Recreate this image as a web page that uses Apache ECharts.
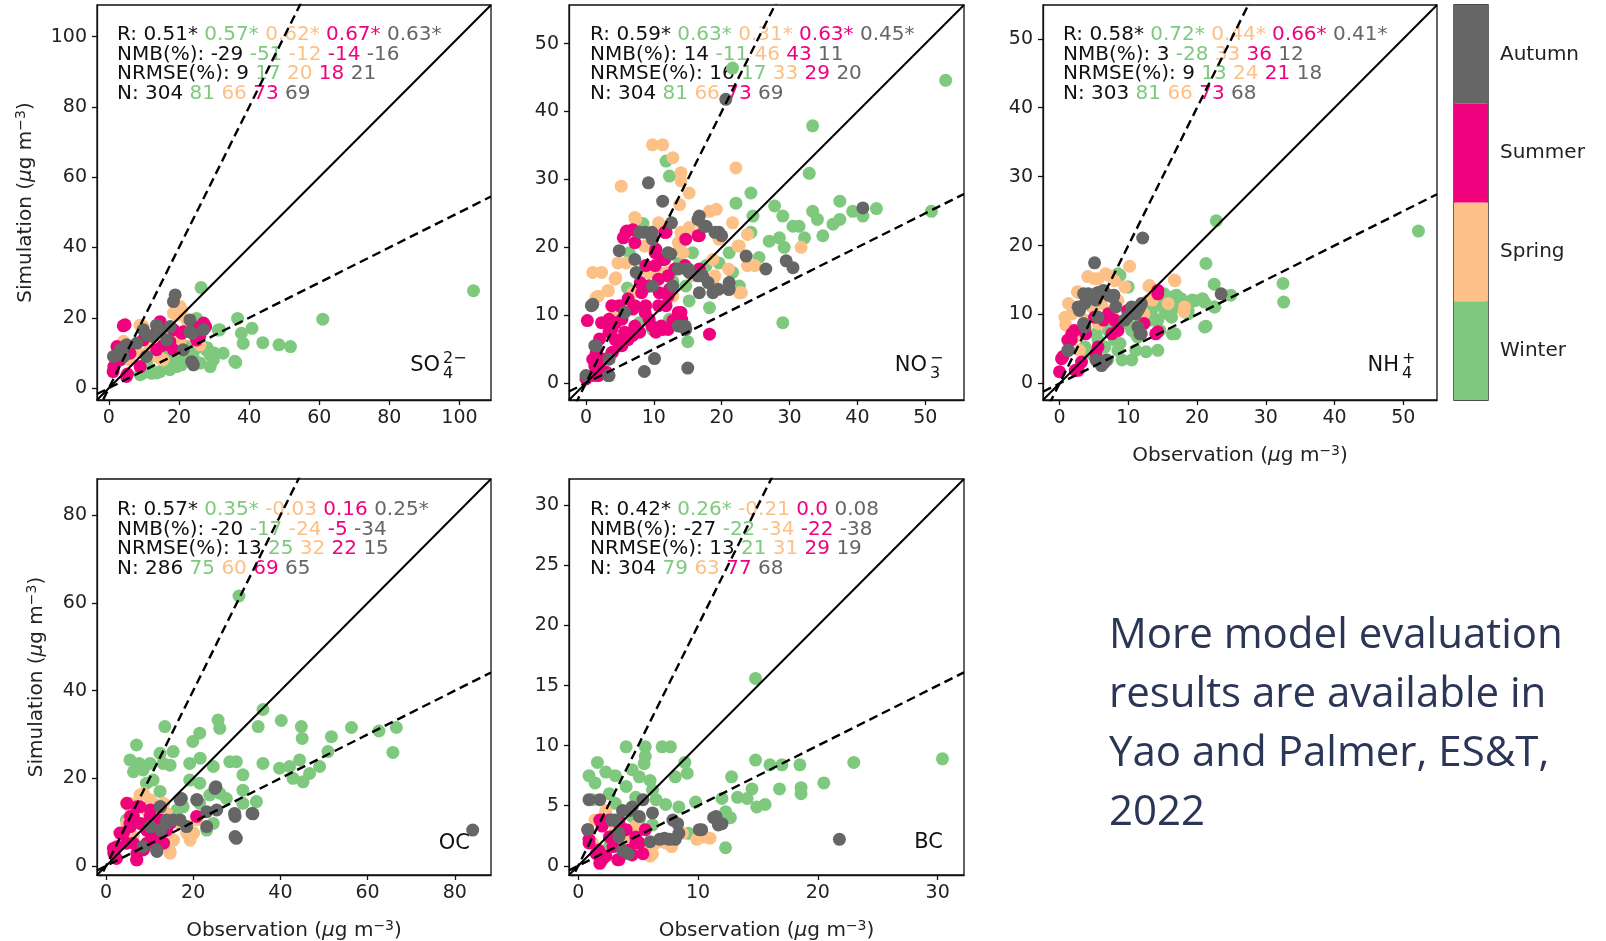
<!DOCTYPE html>
<html>
<head>
<meta charset="utf-8">
<script src="https://cdn.jsdelivr.net/npm/echarts@6/dist/echarts.min.js"></script>
<style>html,body{margin:0;padding:0;background:#fff;}#c{width:1606px;height:941px;}</style>
</head>
<body>
<div id="c"></div>
<script>
// ---------- DATA ----------
const seasons = ['Winter', 'Spring', 'Summer', 'Autumn'];
const seasonColors = ['#7fc97f', '#fdc086', '#f0027f', '#666666'];

const so4Range = [-3.4, 109];
const so4Ticks = [0, 20, 40, 60, 80, 100];
const no3Range = [-2.5, 55.7];
const no3Ticks = [0, 10, 20, 30, 40, 50];
const nh4Range = [-2.4, 54.9];
const nh4Ticks = [0, 10, 20, 30, 40, 50];
const ocRange = [-2.06, 88.3];
const ocTicks = [0, 20, 40, 60, 80];
const bcRange = [-0.77, 32.2];
const bcXTicks = [0, 10, 20, 30];
const bcYTicks = [0, 5, 10, 15, 20, 25, 30];

const so4Winter = [[26.3,28.6],[104,27.7],[61,19.6],[36.7,19.8],[40.8,17],[31.2,16.5],[37.8,15.6],[38.3,12.7],[43.9,12.9],[48.5,12.3],[51.8,11.8],[32.6,9.9],[36.2,7.3],[28.9,6.1],[26,7.1],[20.7,6.6],[17.4,6.6],[14.6,4.7],[12.2,4.2],[8.9,3.8],[10.8,7],[25,19.8],[27.8,10.8],[22.2,10.8],[16.5,9.9],[31.6,16.6],[28,11.5],[29.8,8],[21.2,8],[17.4,5.2],[13.6,4.3],[9.8,4.3],[22,11.8],[25,11.4],[28.8,9.5],[19.4,6.1],[35.9,7.6],[30,10],[24,9],[18,8.5]];
const so4Spring = [[20.3,23.2],[18.4,21.3],[22.2,19.4],[4.2,13.3],[9.8,17.5],[11.7,10.9],[13.6,9],[20.3,13.3],[7.9,10.4],[15.5,8],[5.9,8],[20.8,22.2],[19.3,20.8],[8.9,17.9],[13.6,10.8],[14.5,8.5],[10.8,9.9],[17.4,14.2],[26,12.3],[24.5,14.2],[6,12],[12,13]];
const so4Summer = [[4.6,18],[14.6,18.9],[27,18.5],[24.1,17.5],[1.4,6.1],[5.3,4],[21.2,16],[25.9,14.7],[18.4,16.6],[13.6,16],[9.8,13.7],[2.3,11.8],[15.5,12.2],[25,13.7],[18.4,10.9],[6,9.9],[3.2,8],[8.9,6.1],[13.6,10.9],[4.1,17.7],[27.6,17.5],[1.2,4.7],[5,3.3],[20.8,15.6],[17.4,13.2]];
const so4Autumn = [[18.9,26.5],[18.4,24.6],[23.1,19.4],[9.8,16.6],[14.6,16],[17.5,17.5],[12.6,14.7],[3.2,10.9],[4.2,9],[16.5,13.7],[8,12.8],[23.1,16],[24.1,6.6],[1.3,9],[21.2,10.9],[27,16.6],[10.7,9],[23.9,15.6],[23.6,7.5],[5,12.3],[13.6,17.9],[11,15]];

const no3Winter = [[21.6,46.4],[53,44.6],[33.4,37.9],[32.9,30.9],[11.8,32.7],[12.3,30.5],[24.3,28],[22.1,26.5],[27.8,26.1],[29,24.6],[33.4,25.3],[34.1,24.1],[37.4,26.8],[39.3,25.3],[42.8,25.7],[40.8,24.6],[36.4,23.4],[37.4,24.1],[34.9,21.7],[30.5,23.1],[31.4,23.1],[32.2,21.4],[28.5,21.4],[27,20.9],[29.2,20],[50.9,25.3],[29,8.9],[18.2,11.1],[15,6.1],[24.6,24.6],[24.3,22.2],[25.5,18.5],[21.1,19.2],[19.6,17.7],[17.7,17.3],[15.7,19.2],[14.7,14.3],[12.8,15],[15.2,12.1],[8.4,23.5],[6.4,19.2],[6.1,14],[7.9,8.9],[9.8,7.9],[12.3,9.4],[16.7,15.8],[21.6,16.3],[22.6,14.3],[13.8,17.7]];
const no3Spring = [[9.8,35.1],[11.3,35.1],[12.8,33.2],[14,31],[14,29.8],[5.2,29],[22.1,31.7],[15.2,28],[13.8,26.3],[18.2,25.3],[19.2,25.6],[7.3,24.1],[1,16.3],[3.2,13.6],[1.5,12.6],[4.4,15.5],[4.7,17.7],[5.9,17.7],[6.9,13.3],[8.6,20.2],[10.8,23.1],[13.8,20.2],[14,22.2],[15.2,22.9],[15.7,15.8],[19.6,21.2],[21.6,23.6],[22.6,20.2],[23.8,21.9],[23.8,17.3],[31.7,20],[22.6,13.3],[18.7,18.2],[9.3,16.3],[11.8,16.3],[12.8,12.8],[3.9,9.7],[5.4,10.9],[18.7,15.3],[17.2,23.1],[14.3,19.2],
  [7.2,24.4],[10.7,23.6],[13.6,20.7],[14.6,21.2],[8.7,20.2],[9.2,16.3],[10.7,16.3],[2.3,16.3],[4.3,15.3],[1.8,12.8],[3.3,13.6],[19.5,21.7],[22.4,20.2],[24.9,17.3],[22.9,13.3],[19,15.8],[21,16.8]];
const no3Summer = [[0.2,9.2],[3.4,9.4],[18.2,7.2],[5.9,22.2],[6.9,22.6],[11.3,18.2],[11.8,22.2],[10.3,19.7],[8.8,17.3],[8,14.8],[9.3,14.3],[10.8,13.3],[12.3,13.8],[11.8,11.4],[8.8,11.4],[6.9,10.9],[4.9,11.4],[4.4,8.9],[3.4,7.5],[2,6.5],[1.5,4.5],[1,3.5],[2.5,3.5],[3.9,4.5],[4.9,5.5],[1,1.1],[2,2.1],[6.9,7],[7.9,7.5],[9.3,9.4],[10.3,7.5],[11.3,7.9],[12.8,9.2],[14,10.4],[14.7,21.2],[16.7,21.7],[16.7,16.8],[5.9,6.5],[3,1.6],[0,0.6],
  [6,22.4],[5.5,21.4],[7.2,20.7],[11.6,22.2],[16.5,21.7],[6.2,12.4],[8.2,13.3],[9.2,14.3],[10.7,15.3],[12.1,15.8],[13.1,16.8],[14.6,17.3],[10.2,17.3],[11.6,18.2],[10.2,19.2],[7.2,11.4],[8.7,10.4],[10.7,11.4],[12.1,12.8],[13.6,10.4],[14.1,9.4],[11.1,8.4],[9.7,8.4],[7.2,8.4],[5.7,7.5],[5.3,5.5],[3.8,4.5],[2.8,3.5],[1.3,2.5],[1.8,1.1],[4.3,6.4],[6.2,6.4],[12.1,7.9],[5.3,9.4],[3.8,7.9],[2.3,8.9],[3.8,11.4]];
const no3Autumn = [[20.6,41.8],[9.2,29.5],[11.3,26.8],[40.8,25.8],[16.7,24.6],[17.7,23.1],[7.9,22.2],[4.9,19.5],[9.8,21.2],[12.5,19],[7.4,16.3],[14.7,16.8],[17.2,15.8],[18.7,13.3],[21.1,13.8],[21.1,14.8],[16.7,13.3],[9.8,14.3],[23.6,18.7],[26.5,16.8],[29.5,18],[30.5,17],[19.6,22.2],[1,11.6],[5.7,10.4],[1.5,5.5],[3.4,3.5],[10.1,3.6],[8.6,1.7],[15,2.2],[13.8,8.4],[14.7,7.9],[3.4,1.1],[12.8,14.3],[15.2,16.3],
  [8.7,22.2],[9.7,22.2],[12.6,23.6],[16.5,24.1],[17.5,23.1],[7.2,18.2],[12.1,19.2],[13.6,16.8],[15.1,16.8],[16.5,15.8],[18,14.8],[19.5,13.8],[21,13.8],[19,22.2],[20,21.7],[13.6,8.4],[14.6,8.4],[0.8,11.4],[0,1.1],[3.3,1.1],[1.3,5.5]];

const nh4Winter = [[52.2,22.1],[22.8,23.6],[21.3,17.4],[32.5,14.5],[32.6,11.8],[22.5,14.4],[24.9,12.8],[21.3,8.3],[16.4,7.2],[8.5,15.9],[9.9,14],[15.2,13],[17,12.8],[19.3,12.1],[20.8,12.3],[22.5,11.1],[14.3,11.6],[12.3,10.6],[13.5,9.2],[14.6,7.7],[11.1,4.8],[12.6,4.6],[9.1,3.4],[6.4,5.3],[3.5,4.8],[5.3,7.2],[7.6,7.7],[9.9,8.7],[11.7,9.2],[7,3.4],[17.5,11.1],[18.7,10.1],[15.8,10.1],[11.1,7.2],[8.8,5.8],[15.2,12.1],
  [10,14],[8.8,15.7],[15.3,12.5],[16.3,12.5],[17.7,12.3],[19.7,12],[21.1,11.8],[22.6,11.1],[13.4,10.6],[14.3,9.2],[16.3,9.6],[10.5,7.7],[11.4,6.7],[8,6.3],[6.6,5.3],[8.5,4.8],[15.3,10.6],[17.2,11.1],[12.9,12],[5.6,6.3],[3.7,5.3],[11.9,9.2],[18.7,10.6],[7.1,7.7],[21.1,8.2],[16.8,7.2],[14.3,4.8],[10.5,3.4],[4.7,4.3]];
const nh4Spring = [[10.2,17],[16.7,15],[13,14.1],[5.6,15.2],[6.7,15.9],[2.6,13.3],[1.8,10.1],[0.9,8.5],[2,6.8],[5.3,9.9],[8.2,12.1],[8.2,9.2],[5.8,8.7],[12.3,10.1],[18.1,10.4],[15.8,11.6],[13.5,12.1],[4.1,15.5],[2.9,4.8],
  [5.1,15.2],[7.1,15.7],[2.7,13.2],[1.3,11.6],[0.8,9.6],[1.7,7.7],[3.7,9.2],[5.6,8.7],[7.6,10.6],[8.5,12],[9.5,14],[13.1,14.2],[16.8,14.9],[18.2,11.1],[11.9,10.1],[4.7,11.1],[6.1,11.6],[2.2,6.7],[8,14.9]];
const nh4Summer = [[0.3,3.6],[0,1.7],[2.3,1.9],[1.8,7.2],[1.2,6.3],[3.8,7.2],[6.4,9.2],[7.6,7.2],[14,7.2],[14.3,13.5],[5.3,4.3],[3.2,3.1],[9.9,10.6],[12.3,8.7],
  [0.5,3.9],[2.7,1.9],[1.7,6.3],[2.2,7.7],[5.1,9.6],[7.1,10.1],[8,9.2],[14.3,7.5],[14.3,13],[8.5,7.7],[5.6,5.3]];
const nh4Autumn = [[5.1,17.5],[12.1,21.1],[23.5,13],[3.5,13],[5.3,13],[6.4,13.5],[7.9,12.8],[2.9,10.6],[5.3,12.1],[8.2,11.1],[11.7,11.1],[11.1,10.1],[3.5,8.7],[6.4,2.9],[5.3,3.4],[11.7,7.2],[1.2,4.8],[9.9,9.7],
  [4.2,13],[5.6,13.2],[7.1,12.8],[7.8,12.5],[2.7,11.1],[3.7,11.6],[10.5,11.1],[11.4,10.6],[11.9,11.6],[5.6,9.6],[3.7,8.2],[6.1,2.6],[6.8,3.4],[11.4,8.2],[11.9,7.2],[1.3,4.8],[9.5,9.2]];

const ocWinter = [[30.5,61.6],[36,35.7],[40.2,33.2],[25.7,33.3],[26.1,31.4],[13.5,31.8],[34.9,31.8],[44.8,31.8],[45,29.1],[56.3,31.6],[62.6,30.8],[66.6,31.6],[65.8,25.9],[51.7,29.5],[50.9,26.1],[7,27.6],[21.5,30.3],[19.9,28.4],[12.4,25.7],[15.4,26.1],[5.5,24.2],[7.6,23.4],[10.1,23.4],[6.3,21.5],[8.5,21.9],[13.1,23.4],[14.7,23],[19.2,23.4],[21.6,24.6],[28.4,23.8],[29.9,23.8],[24.6,22.7],[36,23.4],[39.8,22.3],[42.1,22.7],[44.4,24.2],[49,22.7],[46.7,21.1],[42.9,20],[45.2,19.2],[19.2,19.6],[21.5,18.9],[10.8,19.6],[9.3,18.9],[31.4,20.8],[31.4,17.3],[26.1,16.6],[23.8,16.2],[27.6,15.4],[31.4,14.3],[34.5,14.7],[24.6,9.7],[15.4,5.9],[21.5,14.3],[17.7,13.5],[23.1,8.2],[12.4,17],[4.7,10.5],[16.3,12.8]];
const ocSpring = [[5.5,13.5],[7.8,16.2],[4.7,14.3],[9.3,12.8],[10.8,14.3],[13.9,12],[16.9,9.7],[18.5,7.5],[19.2,6.7],[14.7,3.3],[20.8,10.5],[11.6,10.5],[7.8,9.7],[6.3,6.7],[9.3,4.4],[12.4,7.5],
  [5.6,14.3],[8.6,16.6],[10.2,15.1],[11.7,12.8],[15.5,5.9],[18.6,9],[20.1,7.5],[20.9,11.3],[19.3,5.9],[14.7,2.9],[4.8,9.7],[13.2,14.3]];
const ocSummer = [[1.7,4],[2.4,1.7],[7,1.4],[5.5,9.7],[7.8,13.5],[6.3,11.3],[9.3,8.2],[11.6,5.9],[4.7,5.2],[7.8,3.7],[12.4,10.5],[10.1,11.3],[3.2,7.5],[20.8,11.3],[13.9,8.2],
  [7.1,13.5],[5.6,11.3],[7.9,9.7],[10.2,7.5],[11.7,5.9],[6.3,5.2],[8.6,3.7],[2.5,4.4],[1.8,2.9],[4,7.5],[7.1,2.9],[13.2,5.2],[14.7,9.7],[10.2,12.8],[4.8,14.3],[5.6,9],[9.4,5.2],[7.1,1.4]];
const ocAutumn = [[84.1,8.2],[25.2,18.1],[29.9,6.3],[29.5,12],[33.7,11.9],[17.3,15.4],[20.8,15.1],[11.6,3.7],[12.4,13.5],[13.9,9.7],[10.1,9],[23.1,12.4],[8.5,4.4],[15.4,10.5],[18.5,9],
  [12.5,13.5],[13.9,10.5],[12.5,8.2],[17,15.1],[20.9,15.1],[25,17.7],[25.4,12.8],[29.6,11.3],[29.6,6.7],[33.5,12],[11.7,3.3],[10.2,9],[23.1,9],[17,10.5]];

const bcWinter = [[14.8,15.6],[30.4,8.9],[23,8.6],[18.5,8.4],[17,8.4],[14.8,8.8],[16,8.4],[20.5,6.9],[18.6,6.5],[16.8,6.4],[18.6,6],[14.5,6.4],[14.1,5.6],[13.3,5.7],[12.8,7.4],[12,5.6],[15.6,5.1],[14.9,4.9],[12.3,4.5],[12.7,4],[12.3,1.5],[4,9.9],[5.6,9.9],[7,9.9],[7.7,9.9],[5.6,9.1],[5.5,8.5],[1.6,8.6],[0.9,7.5],[2.3,7.8],[3.1,7.5],[4.5,8],[5.1,7.4],[6,7.1],[8.1,7.4],[8.9,8.6],[9.1,7.7],[1.4,6.9],[4,6.6],[4.8,5.7],[6.2,6.3],[1.2,5.5],[2.6,6],[3.1,5.2],[6.5,5.5],[7.3,5.1],[8.4,4.9],[9.8,5.3],[4.5,4.1],[6.2,3.4],[4.5,3],[2.6,1.6],[9.2,2.7],[5.1,3.8]];
const bcSpring = [[10.6,2.4],[9.9,2.2],[7.8,1.6],[6,0.8],[6.5,1.9],[5.6,1.3],[1.8,3.8],[1.2,1.9],[3.1,3],[4,2.2],[2.3,4.4],[4.5,1.3],
  [1.4,3.8],[6.2,1],[7.3,1.9],[5.9,1.6],[10.4,2.4],[11,2.3],[8.7,2.7],[2.3,4.6],[4.8,3.3]];
const bcSummer = [[0.8,3],[0.9,1.9],[1.8,0.2],[3.3,0.5],[4.5,0.9],[1.8,3.8],[2.6,2.4],[3.4,3.5],[4,3],[4.8,2.4],[1.5,1],[2.9,1.6],[5.6,3],[5.1,1.9],[2.3,0.8],
  [0.9,2.2],[2,0.5],[3.4,0.5],[2,3.3],[2.8,2.4],[4.8,1.9],[5.4,1],[4.2,1.3],[1.7,1.3],[2.6,3.8],[3.4,3.8]];
const bcAutumn = [[21.8,2.2],[10.1,3],[11.3,4],[11.7,3.4],[8.3,3.5],[8.1,2.2],[7.2,2.3],[6,2],[6.2,4.4],[5.1,4.1],[5.4,5.5],[1.8,5.5],[3.1,3.8],[3.4,2.4],[4.3,4.6],[0.8,3],[3.7,1.3],
  [2.8,3.8],[3.7,4.6],[4.5,4.9],[7.9,3.8],[8.4,2.7],[7.6,2.2],[6.8,2.2],[10.3,3],[11.5,4.1],[12,3.5],[3.4,2.7],[4.2,1],[0.9,5.5]];

const so4Stats = [['R:', '0.51*', '0.57*', '0.62*', '0.67*', '0.63*'], ['NMB(%):', '-29', '-51', '-12', '-14', '-16'], ['NRMSE(%):', '9', '17', '20', '18', '21'], ['N:', '304', '81', '66', '73', '69']];
const no3Stats = [['R:', '0.59*', '0.63*', '0.31*', '0.63*', '0.45*'], ['NMB(%):', '14', '-11', '46', '43', '11'], ['NRMSE(%):', '16', '17', '33', '29', '20'], ['N:', '304', '81', '66', '73', '69']];
const nh4Stats = [['R:', '0.58*', '0.72*', '0.44*', '0.66*', '0.41*'], ['NMB(%):', '3', '-28', '33', '36', '12'], ['NRMSE(%):', '9', '13', '24', '21', '18'], ['N:', '303', '81', '66', '73', '68']];
const ocStats = [['R:', '0.57*', '0.35*', '-0.03', '0.16', '0.25*'], ['NMB(%):', '-20', '-17', '-24', '-5', '-34'], ['NRMSE(%):', '13', '25', '32', '22', '15'], ['N:', '286', '75', '60', '69', '65']];
const bcStats = [['R:', '0.42*', '0.26*', '-0.21', '0.0', '0.08'], ['NMB(%):', '-27', '-22', '-34', '-22', '-38'], ['NRMSE(%):', '13', '21', '31', '29', '19'], ['N:', '304', '79', '63', '77', '68']];

const refSlopes = [1, 2, 0.5];
const obsName = 'Observation ({i|μ}g m{sp|−3})';
const simName = 'Simulation ({i|μ}g m{sp|−3})';
const noteText = 'More model evaluation\nresults are available in\nYao and Palmer, ES&T,\n2022';

// ---------- LAYOUT ----------
const FONT = 'DejaVu Sans';
const panels = [
  { grid: { left: 97, top: 5, width: 394, height: 395 }, range: so4Range, xt: so4Ticks, yt: so4Ticks, data: [so4Winter, so4Spring, so4Summer, so4Autumn], stats: so4Stats, statPos: [117, 25], xName: false, yName: true, yGap: 59,
    label: { main: 'SO', sub: '4', sup: '2−', x: 440, y: 366 } },
  { grid: { left: 569, top: 5, width: 395, height: 395 }, range: no3Range, xt: no3Ticks, yt: no3Ticks, data: [no3Winter, no3Spring, no3Summer, no3Autumn], stats: no3Stats, statPos: [590, 25], xName: false, yName: false,
    label: { main: 'NO', sub: '3', sup: '−', x: 927, y: 366 } },
  { grid: { left: 1043, top: 5, width: 394, height: 395 }, range: nh4Range, xt: nh4Ticks, yt: nh4Ticks, data: [nh4Winter, nh4Spring, nh4Summer, nh4Autumn], stats: nh4Stats, statPos: [1063, 25], xName: true, yName: false,
    label: { main: 'NH', sub: '4', sup: '+', x: 1399, y: 366 } },
  { grid: { left: 97, top: 479, width: 394, height: 396 }, range: ocRange, xt: ocTicks, yt: ocTicks, data: [ocWinter, ocSpring, ocSummer, ocAutumn], stats: ocStats, statPos: [117, 500], xName: true, yName: true, yGap: 48,
    label: { main: 'OC', x: 470, y: 844 } },
  { grid: { left: 569, top: 479, width: 395, height: 396 }, range: bcRange, xt: bcXTicks, yt: bcYTicks, data: [bcWinter, bcSpring, bcSummer, bcAutumn], stats: bcStats, statPos: [590, 500], xName: true, yName: false,
    label: { main: 'BC', x: 943, y: 843 } }
];

const grids = [], xAxes = [], yAxes = [], series = [], titles = [], graphics = [];
const richStyle = {};
const keys = ['k', 'w', 's', 'u', 'a'];
const keyColors = ['#111111'].concat(seasonColors);
keys.forEach((k, i) => { richStyle[k] = { fontSize: 20, fontFamily: FONT, color: keyColors[i], lineHeight: 19.7 }; });

const nameStyle = { fontSize: 20, fontFamily: FONT, color: '#222', lineHeight: 24,
  rich: {
    i: { fontSize: 20, fontFamily: FONT, fontStyle: 'italic', color: '#222', lineHeight: 24 },
    sp: { fontSize: 14, fontFamily: FONT, color: '#222', lineHeight: 24, verticalAlign: 'top' }
  } };

function axisCommon(ticks) {
  return {
    axisLine: { show: true, onZero: false, lineStyle: { color: '#111', width: 1.3 } },
    axisTick: { show: true, length: 5, customValues: ticks, lineStyle: { color: '#111', width: 1.3 } },
    axisLabel: { customValues: ticks, fontSize: 19, fontFamily: FONT, color: '#222' },
    splitLine: { show: false }
  };
}

panels.forEach((p, i) => {
  grids.push(Object.assign({ show: true, borderColor: '#111', borderWidth: 1.3, backgroundColor: 'transparent', outerBoundsMode: 'none', containLabel: false }, p.grid));
  const xa = Object.assign({ type: 'value', gridIndex: i, min: p.range[0], max: p.range[1] }, axisCommon(p.xt));
  xa.axisLabel.margin = 9;
  if (p.xName) { Object.assign(xa, { name: obsName, nameLocation: 'middle', nameGap: 44, nameTextStyle: nameStyle }); }
  xAxes.push(xa);
  const ya = Object.assign({ type: 'value', gridIndex: i, min: p.range[0], max: p.range[1] }, axisCommon(p.yt));
  ya.axisLabel.margin = 10;
  if (p.yName) { Object.assign(ya, { name: simName, nameLocation: 'middle', nameGap: p.yGap, nameTextStyle: nameStyle }); }
  yAxes.push(ya);

  p.data.forEach((d, s) => {
    series.push({ type: 'scatter', name: seasons[s], xAxisIndex: i, yAxisIndex: i, data: d, symbolSize: 13,
      itemStyle: { color: seasonColors[s], opacity: 1 }, z: 3, silent: true });
  });
  refSlopes.forEach((k) => {
    const lo = p.range[0], hi = p.range[1];
    series.push({ type: 'line', xAxisIndex: i, yAxisIndex: i, data: [[lo, lo * k], [hi, hi * k]], symbol: 'none', clip: true, silent: true, z: 5,
      lineStyle: { color: '#000', width: k === 1 ? 2 : 2.4, type: k === 1 ? 'solid' : [9, 5] } });
  });

  const text = p.stats.map(r => `{k|${r[0]} ${r[1]}} {w|${r[2]}} {s|${r[3]}} {u|${r[4]}} {a|${r[5]}}`).join('\n');
  titles.push({ left: p.statPos[0], top: p.statPos[1], padding: 0, z: 1, text: text,
    textStyle: { fontSize: 20, fontFamily: FONT, fontWeight: 'normal', color: '#111', lineHeight: 19.7, rich: richStyle } });

  const L = p.label;
  graphics.push({ type: 'text', x: L.x, y: L.y, z: 10, style: { text: L.main, fontSize: 21, fontFamily: FONT, fill: '#111', textAlign: 'right', textVerticalAlign: 'middle' } });
  if (L.sub) graphics.push({ type: 'text', x: L.x + 3, y: L.y + 8, z: 10, style: { text: L.sub, fontSize: 16, fontFamily: FONT, fill: '#111', textAlign: 'left', textVerticalAlign: 'middle' } });
  if (L.sup) graphics.push({ type: 'text', x: L.x + 3, y: L.y - 7, z: 10, style: { text: L.sup, fontSize: 16, fontFamily: FONT, fill: '#111', textAlign: 'left', textVerticalAlign: 'middle' } });
});

// colorbar
const cbIndex = panels.length;
grids.push({ left: 1454, top: 5, width: 34, height: 395, show: true, borderColor: '#111', borderWidth: 1.3, backgroundColor: 'transparent', outerBoundsMode: 'none', containLabel: false });
xAxes.push({ type: 'value', gridIndex: cbIndex, min: 0, max: 1, show: false });
yAxes.push({ type: 'category', gridIndex: cbIndex, data: seasons, position: 'right', boundaryGap: true,
  axisLine: { show: false }, axisTick: { show: true, alignWithLabel: true, length: 5, lineStyle: { color: '#111', width: 1.3 } },
  axisLabel: { fontSize: 20, fontFamily: FONT, color: '#222', margin: 12 }, splitLine: { show: false } });
series.push({ type: 'bar', xAxisIndex: cbIndex, yAxisIndex: cbIndex, barWidth: '100%', barCategoryGap: 0, silent: true, z: 1,
  data: seasons.map((s, i) => ({ value: 1, itemStyle: { color: seasonColors[i] } })) });

graphics.push({ type: 'text', x: 1109, y: 607, z: 10, style: { text: noteText, fontSize: 42, fontFamily: 'Open Sans', fill: '#2b3556', lineHeight: 59, textAlign: 'left', textVerticalAlign: 'top' } });

const chart = echarts.init(document.getElementById('c'), null, { renderer: 'canvas' });
chart.setOption({
  animation: false,
  backgroundColor: '#ffffff',
  grid: grids, xAxis: xAxes, yAxis: yAxes, series: series, title: titles, graphic: graphics
});
</script>
</body>
</html>
